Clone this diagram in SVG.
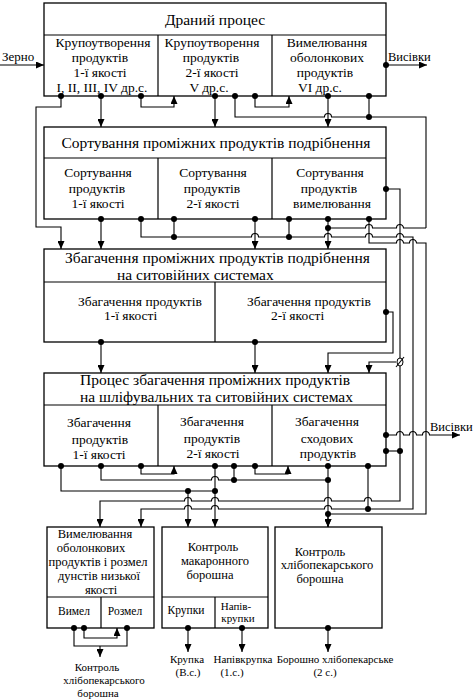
<svg xmlns="http://www.w3.org/2000/svg" width="474" height="700" viewBox="0 0 474 700">
<style>
.b{fill:#fff;stroke:#000;stroke-width:1.3}
.l{fill:none;stroke:#000;stroke-width:1.2}
.c{fill:none;stroke:#000;stroke-width:1.1}
.a{fill:none;stroke:#000;stroke-width:1.1;marker-end:url(#ar)}
text{font-family:"Liberation Serif","Times New Roman",serif;fill:#000}
.t{font-size:15.5px}
.s{font-size:13.5px;text-anchor:middle}
.st{font-size:13.5px}
.m{font-size:12.5px;text-anchor:middle}
.x{font-size:11.5px;text-anchor:middle}
.y{font-size:11px;text-anchor:middle}
</style>
<defs>
<marker id="ar" markerUnits="userSpaceOnUse" markerWidth="8" markerHeight="7" refX="8" refY="3.5" orient="auto"><path d="M0,0 L8,3.5 L0,7 z" fill="#000"/></marker>
</defs>
<rect width="474" height="700" fill="#fff"/>

<g id="n1">
<rect class="b" x="44" y="3" width="342" height="93"/>
<path class="l" d="M44 35 H386 M158 35 V96 M272 35 V96"/>
<text class="t" x="215" y="25" text-anchor="middle">Драний процес</text>
<text class="s" x="103" y="47">Крупоутворення</text>
<text class="s" x="100" y="62">продуктів</text>
<text class="s" x="100" y="77">1-ї якості</text>
<text class="s" x="102" y="92">I, II, III, IV др.с.</text>
<text class="s" x="212" y="47">Крупоутворення</text>
<text class="s" x="211" y="62">продуктів</text>
<text class="s" x="212" y="77">2-ї якості</text>
<text class="s" x="209" y="92">V др.с.</text>
<text class="s" x="327" y="47">Вимелювання</text>
<text class="s" x="327" y="62">оболонкових</text>
<text class="s" x="325" y="77">продуктів</text>
<text class="s" x="320" y="92">VI др.с.</text>
</g>

<g id="n2">
<rect class="b" x="44" y="127" width="342" height="92"/>
<path class="l" d="M44 158 H386 M158 158 V219 M272 158 V219"/>
<text class="t" x="216" y="148" text-anchor="middle">Сортування проміжних продуктів подрібнення</text>
<text class="s" x="98" y="177">Сортування</text>
<text class="s" x="97" y="193">продуктів</text>
<text class="s" x="98" y="208">1-ї якості</text>
<text class="s" x="213" y="177">Сортування</text>
<text class="s" x="212" y="193">продуктів</text>
<text class="s" x="213" y="208">2-ї якості</text>
<text class="s" x="330" y="177">Сортування</text>
<text class="s" x="329" y="193">продуктів</text>
<text class="s" x="332" y="208">вимелювання</text>
</g>

<g id="n3">
<rect class="b" x="44" y="249" width="342" height="93"/>
<path class="l" d="M44 282 H386 M215 282 V342"/>
<text class="t" x="65" y="263">Збагачення проміжних продуктів подрібнення</text>
<text class="t" x="117" y="280">на ситовійних системах</text>
<text class="st" x="78" y="306">Збагачення продуктів</text>
<text class="st" x="104" y="320">1-ї якості</text>
<text class="st" x="247" y="306">Збагачення продуктів</text>
<text class="st" x="271" y="320">2-ї якості</text>
</g>

<g id="n4">
<rect class="b" x="44" y="373" width="342" height="93"/>
<path class="l" d="M44 405 H386 M158 405 V466 M272 405 V466"/>
<text class="t" x="80" y="385">Процес збагачення проміжних продуктів</text>
<text class="t" x="80" y="402">на шліфувальних та ситовійних системах</text>
<text class="s" x="99" y="427">Збагачення</text>
<text class="s" x="100" y="444">продуктів</text>
<text class="s" x="99" y="459">1-ї якості</text>
<text class="s" x="212" y="426">Збагачення</text>
<text class="s" x="212" y="443">продуктів</text>
<text class="s" x="213" y="458">2-ї якості</text>
<text class="s" x="327" y="426">Збагачення</text>
<text class="s" x="327" y="443">сходових</text>
<text class="s" x="328" y="458">продуктів</text>
</g>

<g id="n5a">
<rect class="b" x="47" y="527" width="107" height="101"/>
<path class="l" d="M47 597 H154 M101 597 V628"/>
<text class="m" x="95" y="538">Вимелювання</text>
<text class="m" x="91" y="552">оболонкових</text>
<text class="m" x="98" y="566">продуктів і розмел</text>
<text class="m" x="99" y="580">дунстів низької</text>
<text class="m" x="101" y="594">якості</text>
<text class="x" x="74" y="615">Вимел</text>
<text class="x" x="125" y="615">Розмел</text>
</g>

<g id="n5b">
<rect class="b" x="162" y="527" width="106" height="101"/>
<path class="l" d="M162 597 H268 M215 597 V628"/>
<text class="m" x="213" y="551">Контроль</text>
<text class="m" x="215" y="565">макаронного</text>
<text class="m" x="210" y="579">борошна</text>
<text class="x" x="186" y="614">Крупки</text>
<text class="y" x="236" y="610">Напів-</text>
<text class="y" x="238" y="622">крупки</text>
</g>

<g id="n5c">
<rect class="b" x="275" y="527" width="107" height="101"/>
<text class="m" x="320" y="556">Контроль</text>
<text class="m" x="327" y="569">хлібопекарського</text>
<text class="m" x="320" y="583">борошна</text>
</g>

<g id="labels">
<text x="2" y="61" style="font-size:13px">Зерно</text>
<text x="388" y="61" style="font-size:12.5px">Висівки</text>
<text x="430" y="431" style="font-size:12.5px">Висівки</text>
<text class="y" x="97" y="671">Контроль</text>
<text class="y" x="104" y="684">хлібопекарського</text>
<text class="y" x="98" y="697">борошна</text>
<text class="y" x="187" y="663">Крупка</text>
<text class="y" x="188" y="676">(В.с.)</text>
<text class="y" x="243" y="663">Напівкрупка</text>
<text class="y" x="232" y="676">(1.с.)</text>
<text class="y" x="335" y="663">Борошно хлібопекарське</text>
<text class="y" x="325" y="676">(2 с.)</text>
</g>

<g id="connectors">
<path class="a" d="M0 65 H44"/>
<path class="a" d="M386 65 H427"/>
<path class="a" d="M61 96 V107 H36 V227 H61 V249"/>
<path class="a" d="M101 96 V127"/>
<path class="a" d="M141 96 V107 H174 V96"/>
<path class="a" d="M215 96 V127"/>
<path class="c" d="M235 96 V117 H324.5 A3.5 3.5 0 0 1 331.5 117 H426 V228"/>
<path class="a" d="M255 96 V107 H289 V96"/>
<path class="a" d="M328 96 V127"/>
<path class="c" d="M369 96 V117"/>
<path class="c" d="M328 228 H365.5 A3.5 3.5 0 0 1 372.5 228 H396.5 A3.5 3.5 0 0 1 403.5 228 H426"/>

<path class="a" d="M101 219 V249"/>
<path class="a" d="M141 219 V237 H251.5 A3.5 3.5 0 0 1 258.5 237 H324.5 A3.5 3.5 0 0 1 331.5 237 H365.5 A3.5 3.5 0 0 1 372.5 237 H396.5 A3.5 3.5 0 0 1 403.5 237 H413 V509 H331.5 A3.5 3.5 0 0 0 324.5 509 H218.5 A3.5 3.5 0 0 0 211.5 509 H191.5 A3.5 3.5 0 0 0 184.5 509 H141 V527"/>
<path class="c" d="M174 219 V237 M289 219 V237"/>
<path class="a" d="M255 219 V249"/>
<path class="a" d="M328 219 V249"/>
<path class="a" d="M369 219 V243 H396.5 A3.5 3.5 0 0 1 403.5 243 H409.5 A3.5 3.5 0 0 1 416.5 243 H426 V514 H328 V527"/>
<path class="a" d="M386 189 H400 V501 H371.5 A3.5 3.5 0 0 0 364.5 501 H331.5 A3.5 3.5 0 0 0 324.5 501 H218.5 A3.5 3.5 0 0 0 211.5 501 H191.5 A3.5 3.5 0 0 0 184.5 501 H100 V527"/>
<path class="a" d="M396 362 H369 V373"/>
<ellipse cx="400" cy="362" rx="3" ry="4" fill="#fff" stroke="#000" stroke-width="1"/>
<path class="c" d="M396 367 L404 357"/>

<path class="a" d="M101 342 V373"/>
<path class="a" d="M255 342 V373"/>
<path class="a" d="M386 312 H393 V353 H328 V373"/>

<path class="a" d="M386 435 H396.5 A3.5 3.5 0 0 1 403.5 435 H409.5 A3.5 3.5 0 0 1 416.5 435 H422.5 A3.5 3.5 0 0 1 429.5 435 H460"/>
<path class="c" d="M386 451 H400"/>
<path class="c" d="M61 466 V491 H215"/>
<path class="c" d="M101 466 V480 H211.5 A3.5 3.5 0 0 1 218.5 480 H328"/>
<path class="a" d="M141 466 V474 H174 V466"/>
<path class="a" d="M215 466 V527"/>
<path class="c" d="M234 466 V480"/>
<path class="a" d="M255 466 V474 H288 V466"/>
<path class="a" d="M328 466 V527"/>
<path class="c" d="M368 466 V509"/>
<path class="a" d="M188 491 V527"/>

<path class="a" d="M84 628 V638 H117 V628"/>
<path class="c" d="M74 628 V646 H127 V628"/>
<path class="a" d="M100 646 V657"/>
<path class="a" d="M188 628 V652"/>
<path class="a" d="M242 628 V652"/>
<path class="a" d="M328 628 V652"/>

<g fill="#000">
<circle cx="386" cy="65" r="3"/>
<circle cx="61" cy="96" r="3"/><circle cx="101" cy="96" r="3"/><circle cx="141" cy="96" r="3"/><circle cx="215" cy="96" r="3"/><circle cx="235" cy="96" r="3"/><circle cx="255" cy="96" r="3"/><circle cx="328" cy="96" r="3"/><circle cx="369" cy="96" r="3"/><circle cx="369" cy="117" r="3"/>
<circle cx="386" cy="189" r="3"/>
<circle cx="101" cy="219" r="3"/><circle cx="141" cy="219" r="3"/><circle cx="174" cy="219" r="3"/><circle cx="255" cy="219" r="3"/><circle cx="289" cy="219" r="3"/><circle cx="328" cy="219" r="3"/><circle cx="369" cy="219" r="3"/>
<circle cx="328" cy="228" r="3"/><circle cx="174" cy="237" r="3"/><circle cx="289" cy="237" r="3"/>
<circle cx="386" cy="312" r="3"/><circle cx="101" cy="342" r="3"/><circle cx="255" cy="342" r="3"/>
<circle cx="386" cy="435" r="3"/><circle cx="386" cy="451" r="3"/><circle cx="400" cy="451" r="3"/>
<circle cx="61" cy="466" r="3"/><circle cx="101" cy="466" r="3"/><circle cx="141" cy="466" r="3"/><circle cx="215" cy="466" r="3"/><circle cx="234" cy="466" r="3"/><circle cx="255" cy="466" r="3"/><circle cx="328" cy="466" r="3"/><circle cx="368" cy="466" r="3"/>
<circle cx="234" cy="480" r="3"/><circle cx="328" cy="480" r="3"/><circle cx="188" cy="491" r="3"/><circle cx="215" cy="491" r="3"/>
<circle cx="368" cy="509" r="3"/><circle cx="328" cy="514" r="3"/>
<circle cx="74" cy="628" r="3"/><circle cx="84" cy="628" r="3"/><circle cx="127" cy="628" r="3"/>
<circle cx="188" cy="628" r="3"/><circle cx="242" cy="628" r="3"/><circle cx="328" cy="628" r="3"/>
</g>
</g>
</svg>
